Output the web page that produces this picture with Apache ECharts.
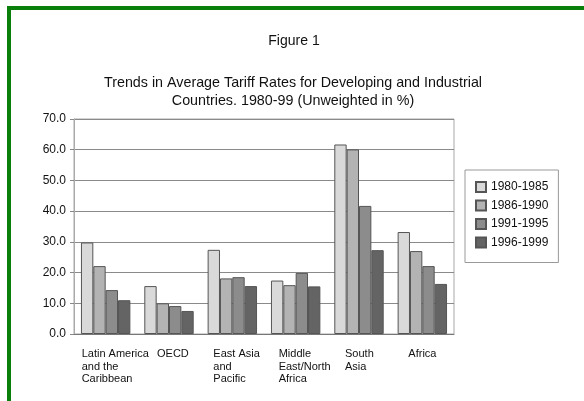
<!DOCTYPE html>
<html><head><meta charset="utf-8">
<script src="https://cdn.jsdelivr.net/npm/echarts@6/dist/echarts.min.js"></script>
<style>
html,body{margin:0;padding:0;background:#fff;overflow:hidden;}
#c{position:absolute;left:0;top:0;width:584px;height:401px;}
#frame{position:absolute;left:7px;top:6px;width:600px;height:420px;border:4px solid #0a800a;pointer-events:none;}
</style></head>
<body>
<div id="c"></div>
<div id="frame"></div>
<script>
var categories = ['Latin America\nand the\nCaribbean','OECD','East Asia\nand\nPacific','Middle\nEast/North\nAfrica','South\nAsia','Africa'];
var periods = ['1980-1985','1986-1990','1991-1995','1996-1999'];
var v1980_1985 = [29.8, 15.6, 27.4, 17.4, 61.7, 33.2];
var v1986_1990 = [22.1, 10.0, 18.1, 15.9, 60.1, 27.0];
var v1991_1995 = [14.3, 9.1, 18.5, 19.9, 41.7, 22.1];
var v1996_1999 = [11.0, 7.5, 15.6, 15.5, 27.3, 16.3];
var yTicks = [0,10,20,30,40,50,60,70];

var seriesData = [v1980_1985, v1986_1990, v1991_1995, v1996_1999];
var colors = ['#d9d9d9','#b3b3b3','#8c8c8c','#646464'];
var labelShift = [-24, -12, -19, -17, -14, -14];

var chart = echarts.init(document.getElementById('c'));
var rich = {};
labelShift.forEach(function(s,i){
  rich['p'+i] = {fontFamily:'Liberation Sans, Arial, sans-serif', fontSize:11, color:'#111', lineHeight:12.5, padding:[0,0,0,s], align:'left'};
});
chart.setOption({
  backgroundColor:'#fff',
  animation:false,
  title:[
    {text:'Figure 1', left:289, top:29, textAlign:'center',
     textStyle:{fontFamily:'Liberation Sans Narrow, Liberation Sans, Arial, sans-serif', fontSize:14, fontWeight:'normal', color:'#111'}},
    {text:'Trends in Average Tariff Rates for Developing and Industrial\nCountries. 1980-99 (Unweighted in %)', left:288, top:69, textAlign:'center',
     textStyle:{fontFamily:'Liberation Sans, Arial, sans-serif', fontSize:14.3, fontWeight:'normal', color:'#111', lineHeight:18, align:'center'}}
  ],
  legend:{
    orient:'vertical', left:465, top:170, width:92,
    data:periods,
    itemWidth:10, itemHeight:10, itemGap:6.5,
    padding:[11,10,14,10],
    borderColor:'#999', borderWidth:1,
    textStyle:{fontFamily:'Liberation Sans, Arial, sans-serif', fontSize:12, color:'#111'},
    icon:'rect'
  },
  grid:{left:74, right:130, top:119, bottom:67, show:true, borderColor:'#a8a8a8', borderWidth:1, backgroundColor:'transparent'},
  xAxis:{
    type:'category', data:categories,
    axisLine:{show:true, lineStyle:{color:'#777', width:1}},
    axisTick:{show:false},
    axisLabel:{
      interval:0, margin:14, align:'left', verticalAlign:'top',
      formatter:function(v, i){
        return v.split('\n').map(function(l){return '{p'+i+'|'+l+'}';}).join('\n');
      },
      rich:rich
    }
  },
  yAxis:{
    type:'value', min:yTicks[0], max:yTicks[yTicks.length-1], interval:10,
    axisLine:{show:true, lineStyle:{color:'#aaa'}},
    axisTick:{show:true, length:4, lineStyle:{color:'#888'}},
    axisLabel:{formatter:function(v){return v.toFixed(1);}, fontFamily:'Liberation Sans, Arial, sans-serif', fontSize:12, color:'#111', margin:8},
    splitLine:{show:true, lineStyle:{color:'#8a8a8a', width:1}}
  },
  series: periods.map(function(p,i){
    return {
      name:p, type:'bar', data:seriesData[i],
      barGap:'0%', barCategoryGap:'22%',
      itemStyle:{color:colors[i], borderColor:'#555', borderWidth:1}
    };
  })
});
</script>
</body></html>
